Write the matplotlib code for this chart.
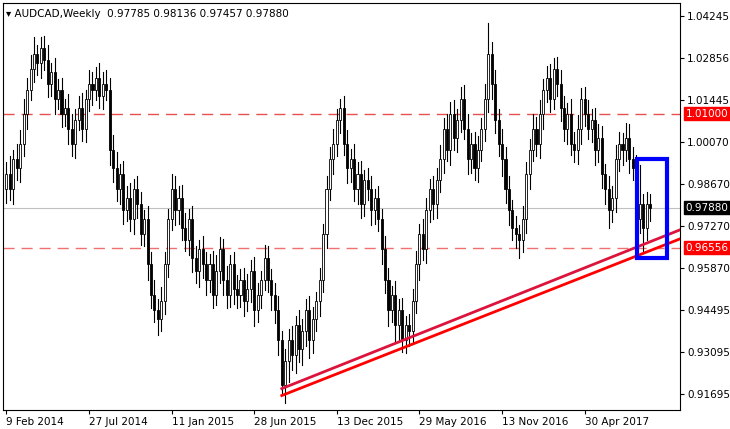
import matplotlib
matplotlib.use("Agg")
import matplotlib.pyplot as plt
from matplotlib.patches import Rectangle
import numpy as np

closes = [0.990,0.985,0.995,0.992,1.000,
1.010,1.018,1.025,1.030,1.027,1.032,
1.028,1.020,1.024,1.015,1.018,1.010,1.012,
1.005,1.000,1.008,1.012,1.005,
1.015,1.020,1.018,1.022,1.016,1.020,1.018,
0.998,0.992,
0.985,0.990,0.978,0.982,0.975,0.985,0.980,0.970,0.975,
0.960,0.950,0.945,0.942,0.948,
0.960,0.975,0.985,0.978,0.982,
0.972,0.968,0.975,0.962,0.958,0.965,0.960,
0.955,0.960,0.950,0.958,0.965,0.955,0.950,0.960,0.952,
0.950,0.955,0.948,0.952,0.958,0.945,0.950,0.955,0.962,0.955,0.950,0.945,
0.935,0.920,
0.928,0.935,0.930,0.940,0.932,0.938,0.945,0.935,0.942,0.948,0.955,
0.970,0.985,0.995,1.000,1.008,1.012,
1.000,0.992,0.995,0.985,0.990,0.980,0.988,0.985,0.978,0.982,0.975,
0.965,0.955,0.945,0.950,0.940,0.945,0.935,0.940,0.938,
0.948,0.960,0.970,0.965,0.978,0.985,0.980,0.988,
0.995,1.005,0.998,1.010,1.002,1.008,1.015,1.005,0.995,1.000,0.992,0.998,1.005,1.015,1.030,
1.020,1.008,1.000,0.995,0.985,0.978,0.972,0.970,0.968,
0.975,0.990,0.998,1.005,1.000,1.010,1.018,1.022,1.015,1.025,1.020,
1.012,1.005,1.010,1.000,0.998,1.005,1.015,1.010,1.005,1.008,0.998,1.002,
0.990,0.985,0.978,0.982,
0.995,1.000,0.998,1.002,0.995,
0.992,0.975,0.980,0.972,0.980,0.9788]
first_open = 0.9850
# wick lengths in pips (1e-4)
wick_up = [40,60,30,50,45, 50,40,45,55,30,35, 40,50,30,45,35,40,30, 45,50,35,40,50, 30,45,40,35,50,40,45, 40,50,
55,35,45,40,50,35,45,40,30, 45,40,50,35,45, 40,35,50,45,40, 45,50,35,45,40,30,45,
40,35,45,50,40,35,45,30,40, 45,35,40,50,35,45,40,30,45,40,35,40, 45,30,
40,35,45,30,50,40,35,45,40,30,40, 35,45,40,50,35,30,
40,45,35,50,40,45,35,40,45,30,40, 35,45,40,30,45,35,40,30,35,
40,45,35,50,40,35,45,40, 45,35,50,40,45,35,40,45,50,35,40,45,35,50,100,
40,45,35,50,40,45,35,40,30, 45,40,35,50,40,45,35,40,45,35,40,
45,40,35,50,40,45,35,40,45,35,40,45, 40,35,45,40, 45,40,35,50,45, 40,45,130,35,40,35]
wick_dn = [45,35,50,40,45, 40,50,35,45,40,50, 35,45,40,50,35,45,40, 50,40,45,35,40, 45,40,50,35,40,45,35, 50,45,
40,50,45,35,40,50,45,35,40, 50,45,40,55,40, 45,40,35,50,45, 40,35,50,45,40,55,45,
50,40,45,35,40,50,45,40,50, 45,40,50,35,45,55,40,45,35,40,50,45, 50,30,
60,70,50,60,45,55,50,60,45,40,50, 40,45,35,50,40,45,
35,50,45,40,50,45,40,35,50,45,40, 50,45,55,40,60,50,40,45,50,
45,40,50,35,45,40,50,45, 40,45,35,50,40,45,40,35,50,45,40,45,35,40,45,
50,45,40,55,45,50,40,45,60, 40,45,50,35,40,45,50,40,45,35,40,
45,40,50,35,40,45,50,40,35,45,50,40, 45,50,60,40, 45,40,50,35,45, 40,50,45,80,40,45]

date_labels = ["9 Feb 2014","27 Jul 2014","11 Jan 2015","28 Jun 2015","13 Dec 2015",
               "29 May 2016","13 Nov 2016","30 Apr 2017"]
date_idx = [0,24,48,72,96,120,144,168]
yticks = [1.04245,1.02856,1.01445,1.00070,0.98670,0.97270,0.95870,0.94495,0.93095,0.91695]
res_level = 1.0100
sup_level = 0.96556
last_price = 0.97880

W, H = 730, 429
fig = plt.figure(figsize=(W/100, H/100), dpi=100)
ax = fig.add_axes([3/W, 19/H, 677/W, 407/H])
n = len(closes)
opens = [first_open] + closes[:-1]
for i in range(n):
    o, c = opens[i], closes[i]
    hi = max(o, c) + wick_up[i]*1e-4
    lo = min(o, c) - wick_dn[i]*1e-4
    ax.plot([i, i], [lo, hi], color="black", lw=0.8, zorder=2)
    bull = c >= o
    ax.add_patch(Rectangle((i-0.3, min(o, c)), 0.6, max(abs(c-o), 1e-4),
                           facecolor="white" if bull else "black",
                           edgecolor="black", lw=0.6, zorder=3))

ax.set_xlim(-1, 195.7)
ax.set_ylim(0.9117, 1.0468)
ax.axhline(res_level, color="#e85050", lw=1, dashes=(8, 5), zorder=1)
ax.axhline(sup_level, color="#f07070", lw=1, dashes=(8, 5), zorder=1)
ax.axhline(last_price, color="#c0c0c0", lw=0.8, zorder=1)
ax.plot([80, 195.7], [0.9188, 0.9715], color="#dc143c", lw=2, zorder=4)
ax.plot([80, 195.7], [0.9165, 0.9685], color="#ff0000", lw=2, zorder=4)
ax.add_patch(Rectangle((183.3, 0.9620), 8.6, 0.0330, fill=False,
                       edgecolor="#0000ff", lw=3, zorder=5))

ax.yaxis.tick_right()
ax.set_yticks(yticks)
ax.set_yticklabels([f"{v:.5f}" for v in yticks], fontsize=7.5)
ax.set_xticks(date_idx)
ax.set_xticklabels(date_labels, fontsize=7.5, ha="left")
ax.tick_params(length=3, pad=2)
for s in ax.spines.values():
    s.set_color("black"); s.set_linewidth(0.8)

def tag(y, text, bg):
    ax.annotate(text, xy=(1.0, y), xycoords=("axes fraction", "data"),
                xytext=(4, 0), textcoords="offset points", va="center", ha="left",
                fontsize=7.5, color="white",
                bbox=dict(boxstyle="square,pad=0.15", fc=bg, ec=bg))
tag(res_level, "1.01000", "#ff0000")
tag(sup_level, "0.96556", "#ff0000")
tag(last_price, "0.97880", "black")

ax.text(0.005, 0.985, "\u25be AUDCAD,Weekly  0.97785 0.98136 0.97457 0.97880",
        transform=ax.transAxes, fontsize=7.5, va="top", ha="left")
fig.savefig("out.png", dpi=100)
